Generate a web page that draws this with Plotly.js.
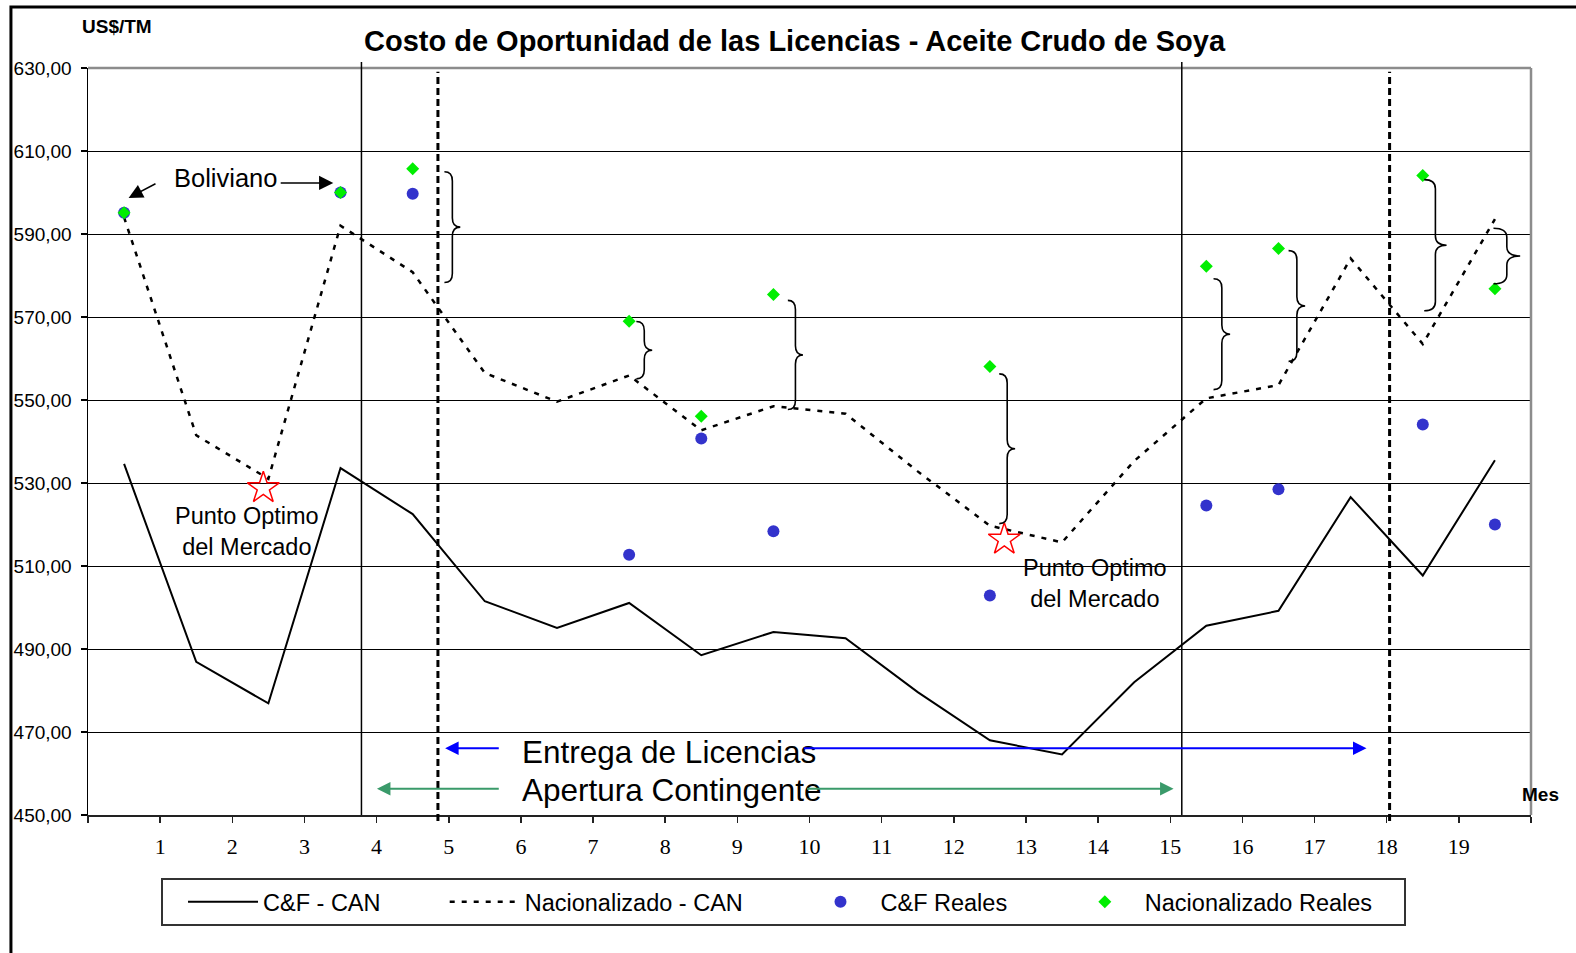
<!DOCTYPE html>
<html>
<head>
<meta charset="utf-8">
<script src="https://cdn.plot.ly/plotly-3.0.1.min.js"></script>
<style>
html,body{margin:0;padding:0;background:#fff;}
#chart{width:1576px;height:953px;}
</style>
</head>
<body>
<div id="chart"></div>
<script>
// ---------------- DATA ----------------
const monthPos = [0.5,1.5,2.5,3.5,4.5,5.5,6.5,7.5,8.5,9.5,10.5,11.5,12.5,13.5,14.5,15.5,16.5,17.5,18.5,19.5];
const tickPos = [0,1,2,3,4,5,6,7,8,9,10,11,12,13,14,15,16,17,18,19,20];
const tickLabels = ['','1','2','3','4','5','6','7','8','9','10','11','12','13','14','15','16','17','18','19',''];

const cfCAN  = [534.6,486.9,476.9,533.6,522.5,501.5,495.1,501.1,488.5,494.1,492.6,479.6,468.0,464.6,482.0,495.6,499.2,526.6,507.7,535.5];
const nacCAN = [594.0,541.5,531.0,592.0,580.8,556.5,549.6,555.9,542.7,548.5,546.7,532.8,519.7,515.7,535.3,550.4,553.6,584.1,563.5,593.6];
const cfReales  = [595.1,null,null,600.0,599.7,null,null,512.7,540.7,518.4,null,null,502.9,null,null,524.6,528.5,null,544.1,520.0];
const nacReales = [595.1,null,null,600.0,605.7,null,null,569.0,546.1,575.4,null,null,558.1,null,null,582.2,586.5,null,604.1,576.8];

const optimoX = [2.43, 12.70];
const optimoY = [528.8, 516.4];

const solidMarks  = [3.79, 15.16];   // Apertura Contingente limits
const dashedMarks = [4.85, 18.04];   // Entrega de Licencias limits

const seriesNames = ['C&F - CAN','Nacionalizado - CAN','C&F Reales','Nacionalizado Reales'];

// ---------------- STYLE ----------------
const SANS = 'Liberation Sans, Arial, sans-serif';
const SERIF = 'Liberation Serif, Times New Roman, serif';
const NB = '\u00a0';
const pad = n => NB.repeat(n);

const traces = [
  {x: monthPos, y: cfCAN, mode:'lines', name: seriesNames[0] + pad(6),
   line:{color:'#000', width:2}},
  {x: monthPos, y: nacCAN, mode:'lines', name: seriesNames[1] + pad(5),
   line:{color:'#000', width:2.5, dash:'5px,7px'}},
  {x: monthPos, y: cfReales, mode:'markers', name: seriesNames[2] + pad(5),
   marker:{color:'#3333cc', size:12}},
  {x: monthPos, y: nacReales, mode:'markers', name: seriesNames[3] + pad(4),
   marker:{color:'#00ee00', symbol:'diamond', size:10}},
  {x: optimoX, y: optimoY, mode:'markers', showlegend:false,
   marker:{symbol:'star-open', size:24, color:'#ff0000', line:{color:'#ff0000', width:1.5}}}
];

// ---------------- SHAPES ----------------
const shapes = [];
shapes.push({type:'rect', xref:'paper', yref:'paper', x0:-0.0534, x1:1.3, y0:-0.5, y1:1.0817,
  line:{color:'#000', width:3}, layer:'above'});
shapes.push({type:'line', xref:'paper', yref:'paper', x0:0, x1:1, y0:1, y1:1, line:{color:'#8c8c8c', width:2.5}, layer:'above'});
shapes.push({type:'line', xref:'paper', yref:'paper', x0:1, x1:1, y0:0, y1:1, line:{color:'#8c8c8c', width:2.5}, layer:'above'});
solidMarks.forEach(m => shapes.push({type:'line', xref:'x', yref:'paper', x0:m, x1:m, y0:0, y1:1.008,
  line:{color:'#000', width:1.5}, layer:'above'}));
dashedMarks.forEach(m => shapes.push({type:'line', xref:'x', yref:'paper', x0:m, x1:m, y0:-0.008, y1:0.995,
  line:{color:'#000', width:3, dash:'7px,4px'}, layer:'above'}));

// curly braces: [left x, tip x, top value, bottom value]
const braceGeom = [
  [4.94, 5.16, 605.0, 578.3],
  [7.60, 7.82, 568.9, 555.1],
  [9.70, 9.91, 574.0, 547.7],
  [12.63,12.85,556.3, 520.2],
  [15.60,15.83,579.2, 552.5],
  [16.64,16.87,586.0, 559.3],
  [18.52,18.83,603.1, 571.5],
  [19.48,19.85,591.4, 578.0]
];
braceGeom.forEach(([x0, xt, top, bot]) => {
  const xm = (x0 + xt) / 2;
  const mid = (top + bot) / 2;
  const r = Math.min(2.2, (top - bot) / 6);
  const p = `M${x0},${top} Q${xm},${top} ${xm},${top - r} L${xm},${mid + r} Q${xm},${mid} ${xt},${mid} ` +
            `Q${xm},${mid} ${xm},${mid - r} L${xm},${bot + r} Q${xm},${bot} ${x0},${bot}`;
  shapes.push({type:'path', xref:'x', yref:'y', path:p, line:{color:'#000', width:1.6}, layer:'above'});
});

// ---------------- ANNOTATIONS ----------------
const annotations = [];
annotations.push({xref:'paper', yref:'paper', x:-0.0055, y:1.0553, xanchor:'left', yanchor:'middle',
  text:'<b>US$/TM</b>', showarrow:false, font:{family:SANS, size:19, color:'#000'}});
annotations.push({xref:'paper', yref:'paper', x:0.9924, y:0.0272, xanchor:'left', yanchor:'middle',
  text:'<b>Mes</b>', showarrow:false, font:{family:SANS, size:19, color:'#000'}});
annotations.push({xref:'x', yref:'y', x:1.91, y:603.4, xanchor:'center', yanchor:'middle',
  text:'Boliviano', showarrow:false, font:{family:SANS, size:25.5, color:'#000'}});
annotations.push({xref:'x', yref:'y', axref:'x', ayref:'y', x:0.563, y:598.7, ax:0.956, ay:602.3,
  text:'', showarrow:true, arrowhead:2, arrowsize:1.9, arrowwidth:1.5, arrowcolor:'#000'});
annotations.push({xref:'x', yref:'y', axref:'x', ayref:'y', x:3.40, y:602.3, ax:2.65, ay:602.3,
  text:'', showarrow:true, arrowhead:2, arrowsize:1.9, arrowwidth:1.5, arrowcolor:'#000'});
annotations.push({xref:'x', yref:'y', x:2.21, y:518.3, xanchor:'center', yanchor:'middle',
  text:'Punto Optimo<br>del Mercado', showarrow:false, font:{family:SANS, size:23.5, color:'#000'}});
annotations.push({xref:'x', yref:'y', x:13.96, y:505.9, xanchor:'center', yanchor:'middle',
  text:'Punto Optimo<br>del Mercado', showarrow:false, font:{family:SANS, size:23.5, color:'#000'}});
annotations.push({xref:'x', yref:'y', x:5.99, y:465.2, xanchor:'left', yanchor:'middle',
  text:'Entrega de Licencias', showarrow:false, font:{family:SANS, size:31.5, color:'#000'}});
annotations.push({xref:'x', yref:'y', x:5.99, y:456.1, xanchor:'left', yanchor:'middle',
  text:'Apertura Contingente', showarrow:false, font:{family:SANS, size:31.5, color:'#000'}});
const BLUE = '#0000ff', GREEN = '#3a9a6a';
[[4.95, 5.714, 466.1, BLUE], [17.72, 9.90, 466.1, BLUE],
 [4.005, 5.714, 456.3, GREEN], [15.046, 9.945, 456.3, GREEN]].forEach(([tip, tail, yv, c]) => {
  annotations.push({xref:'x', yref:'y', axref:'x', ayref:'y', x:tip, y:yv, ax:tail, ay:yv,
    text:'', showarrow:true, arrowhead:2, arrowsize:1.35, arrowwidth:2, arrowcolor:c});
});

const layout = {
  width:1576, height:953,
  margin:{l:88, r:45, t:68, b:138, pad:0},
  paper_bgcolor:'#fff', plot_bgcolor:'#fff',
  separators:',.',
  showlegend:true,
  hovermode:false,
  title:{text:'<b>Costo de Oportunidad de las Licencias - Aceite Crudo de Soya</b>',
    font:{family:SANS, size:29, color:'#000'},
    x:794.5/1576, xref:'container', xanchor:'center',
    y:1 - 41/953, yref:'container', yanchor:'middle'},
  xaxis:{range:[0,20], tickmode:'array', tickvals:tickPos, ticktext:tickLabels,
    ticks:'outside', ticklen:6, tickwidth:1.5, tickcolor:'#222', ticklabelstandoff:5,
    showline:true, linecolor:'#222', linewidth:2, showgrid:false, zeroline:false,
    tickfont:{family:SERIF, size:22, color:'#000'}, fixedrange:true},
  yaxis:{range:[450,630], tick0:450, dtick:20, tickformat:'.2f',
    ticks:'outside', ticklen:6, tickwidth:1.5, tickcolor:'#000', ticklabelstandoff:5,
    showline:true, linecolor:'#000', linewidth:1.5,
    showgrid:true, gridcolor:'#000', gridwidth:1, zeroline:false,
    tickfont:{family:SANS, size:19, color:'#000'}, fixedrange:true},
  legend:{orientation:'h', x:0.0506, xanchor:'left', y:-0.0843, yanchor:'top',
    bgcolor:'#fff', bordercolor:'#333', borderwidth:2,
    font:{family:SANS, size:23.5, color:'#000'}, itemwidth:70, indentation:20},
  shapes: shapes,
  annotations: annotations
};

Plotly.newPlot('chart', traces, layout, {staticPlot:true, displayModeBar:false});
</script>
</body>
</html>
